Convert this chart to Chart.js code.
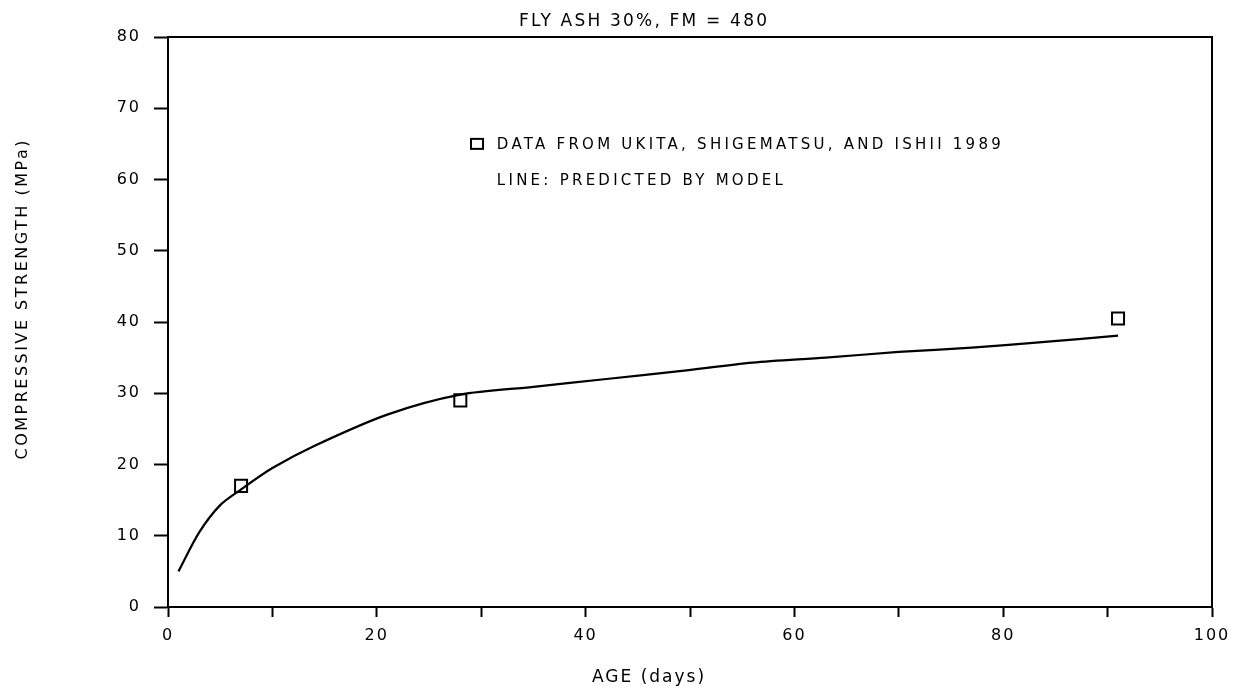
<!DOCTYPE html>
<html>
<head>
<meta charset="utf-8">
<script src="https://cdn.jsdelivr.net/npm/chart.js@4.4.1/dist/chart.umd.min.js"></script>
<style>
html,body{margin:0;padding:0;background:#fff;}
#wrap{width:1233px;height:686px;}
</style>
</head>
<body>
<div id="wrap"><canvas id="c" width="1233" height="686"></canvas></div>
<script>
const chartTitle = 'FLY ASH 30%, FM = 480';
const xTitle = 'AGE (days)';
const yTitle = 'COMPRESSIVE STRENGTH (MPa)';
const legendLines = ['DATA FROM UKITA, SHIGEMATSU, AND ISHII 1989', 'LINE: PREDICTED BY MODEL'];

const dataAge = [7, 28, 91];
const dataStrength = [17, 29, 40.5];

const modelAge = [1, 3, 5, 7, 10, 14, 21, 28, 35, 42, 49, 56, 63, 70, 77, 84, 91];
const modelStrength = [5, 10.5, 14.3, 16.5, 19.5, 22.6, 27, 29.8, 30.9, 32, 33.1, 34.3, 35, 35.8, 36.4, 37.2, 38.1];

const xMin = 0, xMax = 100, xStep = 10, xLabelEvery = 20;
const yMin = 0, yMax = 80, yStep = 10;

const FONT = '"DejaVu Sans", sans-serif';
const TICK_SPACING = '2px';

function drawSpaced(ctx, text, x, y, size, spacing, align) {
  ctx.save();
  ctx.font = size + 'px ' + FONT;
  ctx.letterSpacing = spacing + 'px';
  ctx.fillStyle = '#000';
  ctx.textBaseline = 'alphabetic';
  ctx.textAlign = 'left';
  let w = ctx.measureText(text).width - spacing;
  let sx = x;
  if (align === 'center') sx = x - w / 2;
  ctx.fillText(text, sx, y);
  ctx.restore();
}

const spacingPlugin = {
  id: 'spacing',
  beforeInit(chart) { chart.ctx.letterSpacing = TICK_SPACING; },
  beforeLayout(chart) { chart.ctx.letterSpacing = TICK_SPACING; },
  beforeDraw(chart) { chart.ctx.letterSpacing = TICK_SPACING; }
};

const framePlugin = {
  id: 'frame',
  afterDraw(chart) {
    const {ctx, chartArea: a, scales} = chart;
    ctx.save();
    ctx.strokeStyle = '#000';
    ctx.lineWidth = 2;
    ctx.strokeRect(a.left, a.top, a.right - a.left, a.bottom - a.top);
    const x = scales.x, y = scales.y;
    // legend marker
    const mx = x.getPixelForValue(29.6), my = y.getPixelForValue(65);
    ctx.fillStyle = '#fff';
    ctx.fillRect(mx - 6, my - 5, 12, 10);
    ctx.strokeRect(mx - 6, my - 5, 12, 10);
    ctx.restore();
    const tx = x.getPixelForValue(31.5);
    drawSpaced(ctx, legendLines[0], tx, y.getPixelForValue(65) + 5, 15, 3.25, 'left');
    drawSpaced(ctx, legendLines[1], tx, y.getPixelForValue(59.9) + 5, 15, 3.25, 'left');
    // titles
    drawSpaced(ctx, chartTitle, 643, 26, 17, 2.2, 'center');
    drawSpaced(ctx, xTitle, 648, 682, 17, 2.0, 'center');
    ctx.save();
    ctx.translate(27, 300);
    ctx.rotate(-Math.PI / 2);
    drawSpaced(ctx, yTitle, 0, 0, 16, 2.5, 'center');
    ctx.restore();
  }
};

new Chart(document.getElementById('c'), {
  type: 'scatter',
  data: {
    datasets: [
      {
        label: 'model',
        type: 'line',
        data: modelAge.map((a, i) => ({x: a, y: modelStrength[i]})),
        borderColor: '#000',
        borderWidth: 2.2,
        pointRadius: 0,
        tension: 0.3,
        fill: false
      },
      {
        label: 'data',
        data: dataAge.map((a, i) => ({x: a, y: dataStrength[i]})),
        pointStyle: 'rect',
        pointRadius: 8.5,
        borderColor: '#000',
        borderWidth: 2,
        backgroundColor: '#fff'
      }
    ]
  },
  options: {
    responsive: false,
    animation: false,
    layout: {padding: {left: 0, right: 21, top: 37, bottom: 0}},
    plugins: {
      legend: {display: false},
      tooltip: {enabled: false},
      title: {display: false}
    },
    scales: {
      x: {
        type: 'linear',
        min: xMin, max: xMax,
        border: {display: true, color: '#000', width: 2},
        grid: {drawOnChartArea: false, color: '#000', tickLength: 10, tickWidth: 2},
        ticks: {
          stepSize: xStep,
          color: '#000',
          font: {family: FONT, size: 16},
          padding: 9,
          maxRotation: 0,
          autoSkip: false,
          callback: v => (v % xLabelEvery === 0 ? String(v) : '')
        },
        afterFit(s) { s.height = 79; s.paddingLeft = 0; s.paddingRight = 0; }
      },
      y: {
        type: 'linear',
        min: yMin, max: yMax,
        border: {display: true, color: '#000', width: 2},
        grid: {drawOnChartArea: false, color: '#000', tickLength: 14, tickWidth: 2},
        ticks: {
          stepSize: yStep,
          color: '#000',
          font: {family: FONT, size: 16},
          padding: 13
        },
        afterFit(s) { s.width = 168; s.paddingTop = 0; s.paddingBottom = 0; }
      }
    }
  },
  plugins: [spacingPlugin, framePlugin]
});
</script>
</body>
</html>
